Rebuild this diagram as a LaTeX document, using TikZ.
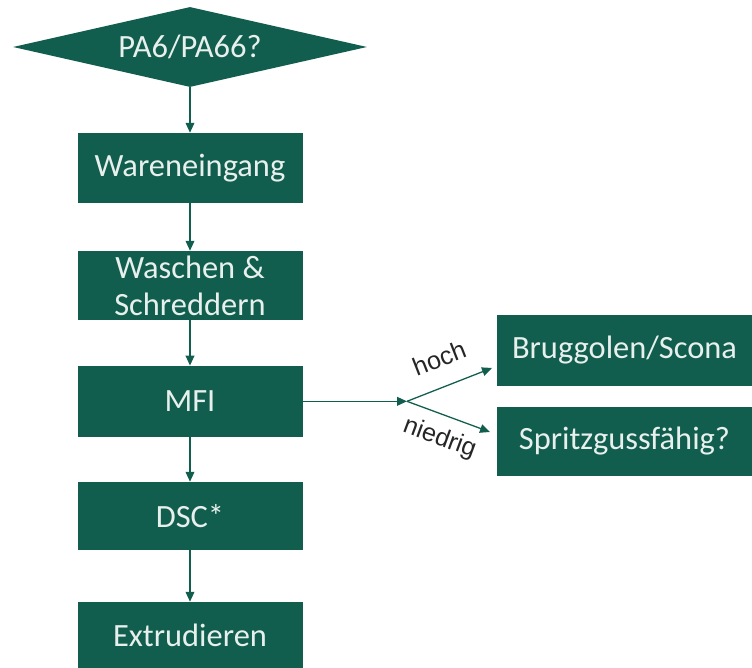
\documentclass[tikz,border=0pt]{standalone}
\usepackage{fontspec}
\setmainfont{Carlito}
\newfontfamily\labelfont{Liberation Sans}
\usetikzlibrary{shapes.geometric,arrows.meta}
\definecolor{flowgreen}{RGB}{18,94,78}
\definecolor{flowtext}{RGB}{232,240,238}

\begin{document}
\begin{tikzpicture}[
    stepbox/.style={fill=flowgreen, text=flowtext, inner sep=0pt, minimum width=6.75cm,
        minimum height=2.1cm, align=center, font=\fontsize{27.7}{31.5}\selectfont},
    decision/.style={diamond, fill=flowgreen, text=flowtext, inner sep=0pt, aspect=4.4,
        minimum width=10.62cm, minimum height=2.4cm, font=\fontsize{27.7}{31.5}\selectfont},
    flow/.style={draw=flowgreen, line width=1.1pt, -{Triangle[length=8.5pt,width=7.5pt]}},
    lbl/.style={text=black!85, font=\labelfont\fontsize{21.5}{25}\selectfont}
]
    \useasboundingbox (0,0) rectangle (22.56,20.04);

    % Main column
    \node[decision] (pa) at (5.7,18.63) {PA6/PA66?};
    \node[stepbox] (waren) at (5.7,15.0) {Wareneingang};
    \node[stepbox, minimum height=2.07cm] (waschen) at (5.7,11.475) {Waschen \&\\Schreddern};
    \node[stepbox, minimum height=2.13cm] (mfi) at (5.7,8.0) {MFI};
    \node[stepbox, minimum height=2.04cm] (dsc) at (5.7,4.56) {DSC*};
    \node[stepbox, minimum height=1.98cm] (extr) at (5.7,0.99) {Extrudieren};

    % Branches
    \node[stepbox, minimum width=7.65cm, minimum height=2.13cm] (brug) at (18.735,9.525) {Bruggolen/Scona};
    \node[stepbox, minimum width=7.65cm, minimum height=2.07cm] (spritz) at (18.735,6.795) {Spritzgussfähig?};

    \coordinate (split) at (12.21,8.0);
    \coordinate (hochend) at (14.76,9.0);
    \coordinate (niedrigend) at (14.7,7.08);

    % Arrows
    \draw[flow] (pa) -- (waren);
    \draw[flow] (waren) -- (waschen);
    \draw[flow] (waschen) -- (mfi);
    \draw[flow] (mfi) -- (dsc);
    \draw[flow] (dsc) -- (extr);
    \draw[flow] (mfi) -- (split);
    \draw[flow] (split) -- (hochend) node[lbl, sloped, above=0.44cm, pos=0.5] {hoch};
    \draw[flow] (split) -- (niedrigend) node[lbl, sloped, below=0.22cm, pos=0.49] {niedrig};
\end{tikzpicture}
\end{document}
